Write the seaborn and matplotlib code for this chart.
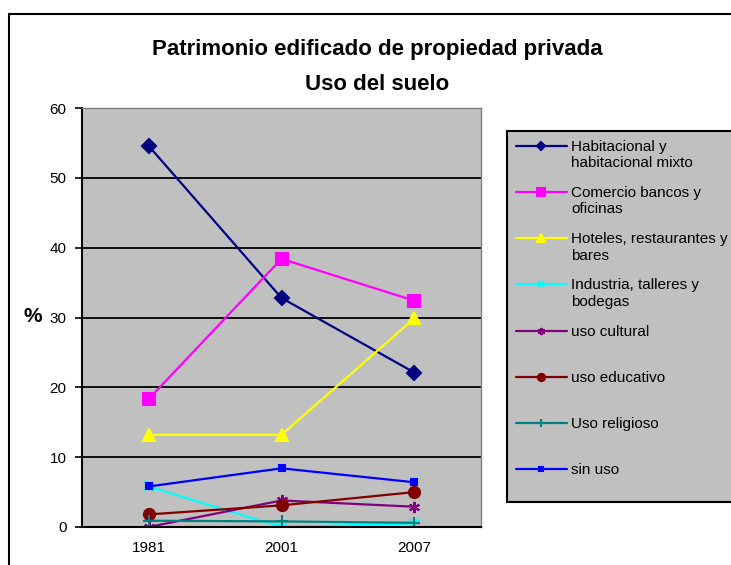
import matplotlib
matplotlib.use("Agg")
import matplotlib.pyplot as plt
import matplotlib.patches as mpatches
import seaborn as sns

sns.set_theme(style="white")
plt.rcParams['font.family'] = ['Liberation Sans', 'DejaVu Sans']
plt.rcParams['text.color'] = 'black'
plt.rcParams['axes.labelcolor'] = 'black'
plt.rcParams['xtick.color'] = 'black'
plt.rcParams['ytick.color'] = 'black'

years = ["1981", "2001", "2007"]
series = [
    "Habitacional y\nhabitacional mixto",
    "Comercio bancos y\noficinas",
    "Hoteles, restaurantes y\nbares",
    "Industria, talleres y\nbodegas",
    "uso cultural\n",
    "uso educativo\n",
    "Uso religioso\n",
    "sin uso\n",
]
habitacional = [54.6, 32.8, 22.1]
comercio = [18.3, 38.4, 32.4]
hoteles = [13.2, 13.2, 29.9]
industria = [5.8, 0.0, 0.5]
cultural = [0.0, 3.8, 2.9]
educativo = [1.8, 3.1, 5.0]
religioso = [0.9, 0.8, 0.6]
sin_uso = [5.8, 8.4, 6.4]
values = [habitacional, comercio, hoteles, industria, cultural, educativo, religioso, sin_uso]

colors = ["#000080", "#FF00FF", "#FFFF00", "#00FFFF", "#800080", "#800000", "#008080", "#0000FF"]
markers = ["D", "s", "^", "x", (6, 2, 0), "o", "+", "s"]
msizes = [7, 8, 9, 7, 8, 8, 8, 4]

fig = plt.figure(figsize=(7.31, 5.65), dpi=100)
ax = fig.add_axes([82 / 731, 1 - 527 / 565, 399 / 731, 419 / 565])
ax.set_facecolor("#C0C0C0")

for name, vals, c, m, ms in zip(series, values, colors, markers, msizes):
    sns.lineplot(x=years, y=vals, ax=ax, color=c, marker=m, markersize=ms,
                 markeredgecolor=c, markeredgewidth=1.5, linewidth=1.6, label=name)

ax.set_xlim(-0.5, 2.5)
ax.set_ylim(0, 60)
ax.set_yticks(range(0, 61, 10))
for yv in range(10, 60, 10):
    ax.axhline(yv, color="black", lw=1.3, zorder=0.5)

ax.set_xticks([0, 1, 2])
ax.set_xticks([-0.5, 0.5, 1.5, 2.5], minor=True)
ax.tick_params(axis="x", which="major", length=0, labelsize=11, pad=10)
ax.tick_params(axis="x", which="minor", length=5, width=1.2, color="black", direction="out")
ax.tick_params(axis="y", length=5, width=1.2, color="black", direction="out", labelsize=11, pad=6, left=True)
ax.set_xlabel("")
ax.set_ylabel("%", rotation=0, fontsize=15, fontweight="bold", va="center", ha="center")
ax.yaxis.set_label_coords((32.5 - 82) / 399, (527 - 316) / 419)

for side in ["left", "bottom"]:
    ax.spines[side].set_color("black")
    ax.spines[side].set_linewidth(1.5)
for side in ["top", "right"]:
    ax.spines[side].set_color("#808080")
    ax.spines[side].set_linewidth(1.0)

fig.text(377 / 731, 1 - 49 / 565, "Patrimonio edificado de propiedad privada",
         ha="center", va="center", fontsize=16, fontweight="bold")
fig.text(377 / 731, 1 - 84 / 565, "Uso del suelo",
         ha="center", va="center", fontsize=16, fontweight="bold")

handles, labels = ax.get_legend_handles_labels()
ax.get_legend().remove()
leg = fig.legend(handles, labels, loc="upper left", bbox_to_anchor=(507 / 731, 1 - 131 / 565),
                 fontsize=11, frameon=True, fancybox=False, framealpha=1,
                 facecolor="#C0C0C0", edgecolor="black", markerscale=0.65,
                 handlelength=3.3, handleheight=1.0, handletextpad=0.3,
                 labelspacing=1.04, borderpad=0.6, borderaxespad=0)
leg.get_frame().set_linewidth(1.5)
for col in leg._legend_handle_box.get_children():
    for item in col.get_children():
        item.align = "top"

border = mpatches.Rectangle((9 / 731, -0.05), 1.1, 1 - 14 / 565 + 0.05,
                            transform=fig.transFigure, fill=False,
                            edgecolor="black", linewidth=1.5)
fig.patches.append(border)

fig.savefig("out.png", dpi=100)
